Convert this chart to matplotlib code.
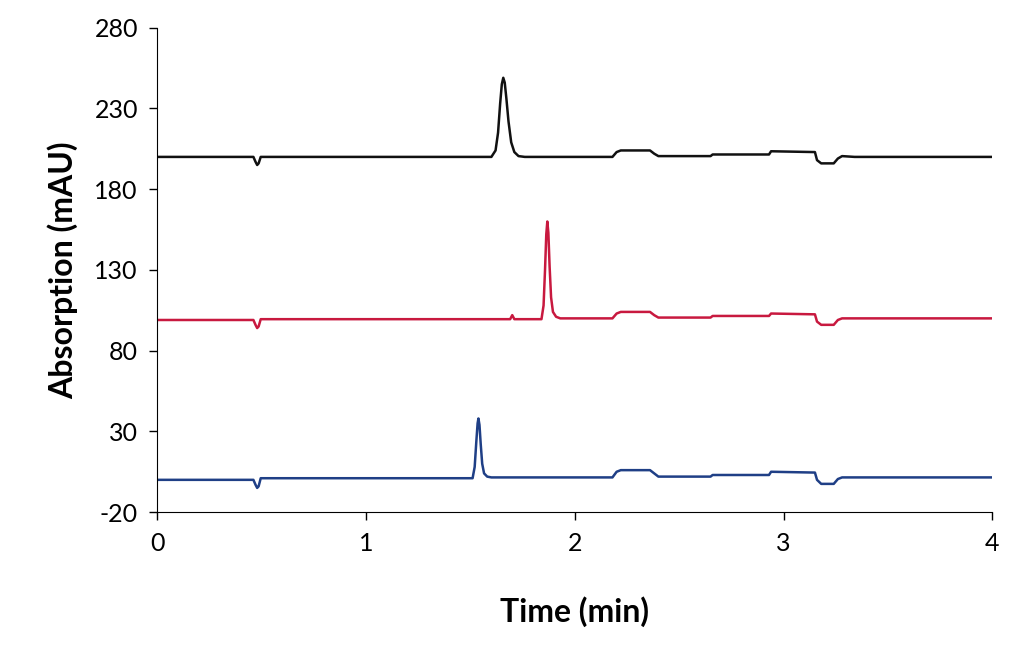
import matplotlib.pyplot as plt

plt.rcParams['font.family'] = ['Lato', 'DejaVu Sans']
plt.rcParams['axes.unicode_minus'] = False

# chromatogram breakpoints (time in min, absorption in mAU)
black_t = [0.0, 0.46, 0.47, 0.478, 0.485, 0.495, 0.51, 1.60, 1.62, 1.632, 1.642, 1.65, 1.657, 1.664, 1.672, 1.682,
           1.695, 1.71, 1.73, 1.76, 2.18, 2.20, 2.22, 2.36, 2.38, 2.40, 2.65, 2.66, 2.93, 2.94, 3.15, 3.16, 3.18,
           3.24, 3.26, 3.28, 3.34, 4.0]
black_y = [200, 200, 197, 195, 196, 200, 200, 200, 204, 215, 233, 245, 249, 246, 236, 222,
           209, 203, 200.5, 200, 200, 203, 204, 204, 202, 200.5, 200.5, 201.5, 201.5, 203.5, 203, 198, 196,
           196, 199, 200.5, 200, 200]

red_t = [0.0, 0.46, 0.47, 0.478, 0.485, 0.495, 0.51, 1.69, 1.70, 1.71, 1.84, 1.85, 1.857, 1.863, 1.868, 1.873,
         1.879, 1.886, 1.895, 1.91, 1.93, 2.18, 2.20, 2.22, 2.36, 2.38, 2.40, 2.65, 2.66, 2.93, 2.94, 3.15, 3.16,
         3.18, 3.24, 3.26, 3.28, 3.34, 4.0]
red_y = [99, 99, 96, 94, 95, 99.5, 99.5, 99.5, 102, 99.5, 99.5, 108, 130, 152, 160, 153,
         132, 113, 104, 101, 100, 100, 103, 104, 104, 102, 100.5, 100.5, 101.5, 101.5, 103, 102.5, 98,
         96, 96, 99, 100, 100, 100]

blue_t = [0.0, 0.46, 0.47, 0.478, 0.485, 0.495, 0.51, 1.51, 1.52, 1.528, 1.534, 1.538, 1.543, 1.549, 1.556,
          1.565, 1.58, 1.60, 2.18, 2.20, 2.22, 2.36, 2.38, 2.40, 2.65, 2.66, 2.93, 2.94, 3.15, 3.16, 3.18,
          3.24, 3.26, 3.28, 3.34, 4.0]
blue_y = [0, 0, -3, -5, -4, 1, 1, 1, 8, 24, 35, 38, 34, 22, 10,
          4, 2, 1.5, 1.5, 5, 6, 6, 4, 2, 2, 3, 3, 5, 4.5, 0, -2.5,
          -2.5, 0.5, 1.5, 1.5, 1.5]

fig, ax = plt.subplots(figsize=(10.22, 6.45), dpi=100)
fig.subplots_adjust(left=0.154, right=0.971, top=0.957, bottom=0.206)

ax.plot(black_t, black_y, color='#111111', lw=1.8)
ax.plot(red_t, red_y, color='#c8193f', lw=1.8)
ax.plot(blue_t, blue_y, color='#1f3f86', lw=1.8)

ax.set_xlim(0, 4)
ax.set_ylim(-20, 280)
ax.set_xticks([0, 1, 2, 3, 4])
ax.set_yticks(range(-20, 281, 50))
ax.tick_params(labelsize=18, direction='out', length=6, width=1, pad=8)
for s in ('top', 'right'):
    ax.spines[s].set_visible(False)
ax.set_xlabel('Time (min)', fontsize=23, fontweight='bold', labelpad=30)
ax.set_ylabel('Absorption (mAU)', fontsize=23, fontweight='bold', labelpad=12)

fig.savefig('out.png')
